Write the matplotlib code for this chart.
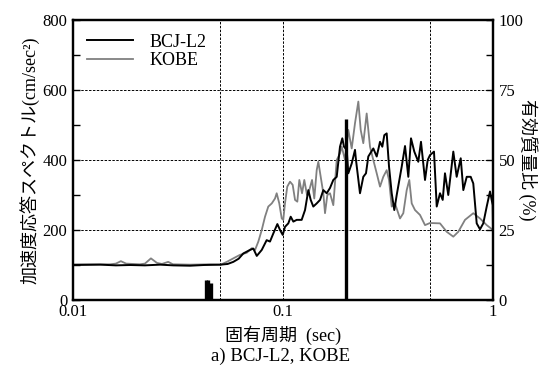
import matplotlib
matplotlib.use("Agg")
import matplotlib.pyplot as plt
from matplotlib.ticker import FixedLocator, NullFormatter

plt.rcParams['font.family'] = ['Liberation Serif', 'Noto Sans CJK JP']

# BCJ-L2 acceleration response spectrum (period sec, cm/sec^2)
bcj_period = [0.0100, 0.0135, 0.0160, 0.0187, 0.0220, 0.0260, 0.0300, 0.0361, 0.0420,
              0.0505, 0.0545, 0.0580, 0.0615, 0.0647, 0.0696, 0.0722, 0.0750, 0.0792,
              0.0836, 0.0867, 0.0899, 0.0940, 0.0968, 0.0997, 0.1022, 0.1060, 0.1088,
              0.1120, 0.1162, 0.1227, 0.1273, 0.1320, 0.1355, 0.1394, 0.1447, 0.1501,
              0.1556, 0.1615, 0.1674, 0.1736, 0.1802, 0.1868, 0.1916, 0.1952, 0.2011,
              0.2046, 0.2124, 0.2202, 0.2226, 0.2326, 0.2412, 0.2484, 0.2548, 0.2692,
              0.2794, 0.2897, 0.2971, 0.3037, 0.3117, 0.3198, 0.3293, 0.3388, 0.3479,
              0.3675, 0.3811, 0.3951, 0.4069, 0.4219, 0.4408, 0.4540, 0.4745, 0.4887,
              0.5012, 0.5236, 0.5395, 0.5592, 0.5761, 0.5906, 0.6124, 0.6471, 0.6715,
              0.7019, 0.7222, 0.7497, 0.7830, 0.8055, 0.8363, 0.8671, 0.8990, 0.9333,
              0.9676, 0.9967, 1.0000]
bcj_sa = [100, 101, 99, 100, 99, 101, 99, 98, 100,
          101, 103, 109, 118, 133, 143, 147, 126, 143,
          171, 167, 190, 217, 200, 186, 209, 219, 238,
          224, 229, 229, 257, 314, 286, 267, 276, 286,
          314, 305, 320, 343, 352, 438, 462, 438, 429,
          362, 390, 429, 400, 305, 352, 362, 410, 433,
          410, 452, 438, 471, 476, 381, 305, 257, 300,
          381, 440, 352, 462, 424, 395, 452, 343, 400,
          414, 424, 267, 305, 286, 362, 300, 424, 352,
          405, 314, 352, 352, 333, 219, 202, 219, 267,
          310, 271, 200]

# KOBE acceleration response spectrum
kobe_period = [0.0100, 0.0150, 0.0160, 0.0169, 0.0179, 0.0208, 0.0220, 0.0235, 0.0251,
               0.0265, 0.0284, 0.0299, 0.0361, 0.0450, 0.0505, 0.0540, 0.0580, 0.0624,
               0.0672, 0.0710, 0.0736, 0.0763, 0.0792, 0.0821, 0.0851, 0.0884, 0.0916,
               0.0933, 0.0960, 0.0986, 0.1003, 0.1022, 0.1048, 0.1080, 0.1112, 0.1141,
               0.1170, 0.1196, 0.1232, 0.1263, 0.1301, 0.1334, 0.1375, 0.1409, 0.1447,
               0.1473, 0.1512, 0.1556, 0.1585, 0.1626, 0.1674, 0.1736, 0.1802, 0.1868,
               0.1904, 0.1974, 0.2046, 0.2124, 0.2202, 0.2284, 0.2344, 0.2412, 0.2503,
               0.2596, 0.2692, 0.2794, 0.2897, 0.3003, 0.3117, 0.3198, 0.3293, 0.3415,
               0.3607, 0.3740, 0.3882, 0.3994, 0.4101, 0.4252, 0.4492, 0.4745, 0.5012,
               0.5592, 0.6019, 0.6471, 0.6835, 0.7356, 0.8055, 0.8671, 0.9333, 1.0000]
kobe_sa = [102, 102, 104, 111, 104, 102, 104, 119, 106,
           103, 109, 102, 101, 102, 101, 109, 119, 129,
           135, 148, 143, 167, 200, 238, 267, 276, 290,
           305, 276, 233, 229, 276, 324, 338, 329, 286,
           281, 343, 305, 343, 300, 314, 343, 290, 371,
           395, 352, 305, 248, 300, 305, 271, 400, 419,
           438, 400, 486, 433, 505, 567, 486, 448, 533,
           438, 400, 362, 324, 352, 371, 343, 267, 276,
           233, 248, 314, 343, 276, 257, 243, 214, 220,
           219, 195, 181, 195, 229, 248, 233, 214, 200]

# effective mass ratio (%)
mass_period = [0.0430, 0.0439, 0.0454, 0.2000]
mass_ratio = [7.1, 7.0, 6.2, 64.5]

fig = plt.figure(figsize=(5.42, 3.76), dpi=100)
ax = fig.add_axes([0.1347, 0.2021, 0.7749, 0.7447])

ax.plot(bcj_period, bcj_sa, color='black', lw=1.4, label='BCJ-L2', zorder=3)
ax.plot(kobe_period, kobe_sa, color='#808080', lw=1.3, label='KOBE', zorder=2)

ax.set_xscale('log')
ax.set_xlim(0.01, 1)
ax.set_ylim(0, 800)
ax.xaxis.set_major_locator(FixedLocator([0.01, 0.1, 1]))
ax.xaxis.set_minor_locator(FixedLocator([0.05, 0.5]))
ax.xaxis.set_minor_formatter(NullFormatter())
ax.set_xticklabels(['0.01', '0.1', '1'])
ax.set_yticks([0, 200, 400, 600, 800])
ax.yaxis.set_minor_locator(FixedLocator([100, 300, 500, 700]))
ax.tick_params(axis='x', which='both', length=0, labelsize=12, pad=3)
ax.tick_params(axis='y', which='major', direction='in', length=5, labelsize=12, width=1, pad=4)
ax.tick_params(axis='y', which='minor', direction='in', length=5, width=1)
ax.grid(True, which='both', axis='x', color='black', lw=0.7, ls=(0, (2.5, 1.5)))
ax.grid(True, which='major', axis='y', color='black', lw=0.7, ls=(0, (2.5, 1.5)))
for s in ax.spines.values():
    s.set_linewidth(1.6)

ax.set_ylabel('加速度応答スペクトル(cm/sec²)', fontsize=13, labelpad=2)
ax.set_xlabel('固有周期  (sec)', fontsize=13, labelpad=4)
fig.text(0.517, 0.028, 'a) BCJ-L2, KOBE', ha='center', va='bottom', fontsize=13.5)

leg = ax.legend(loc='upper left', bbox_to_anchor=(0.0, 1.0), frameon=False,
                fontsize=13, handlelength=2.6, labelspacing=0.1, borderaxespad=0.35,
                handletextpad=0.9)

ax2 = ax.twinx()
ax2.vlines(mass_period, 0, mass_ratio, color='black', lw=2.4)
ax2.set_ylim(0, 100)
ax2.set_yticks([0, 25, 50, 75, 100])
ax2.yaxis.set_minor_locator(FixedLocator([12.5, 37.5, 62.5, 87.5]))
ax2.tick_params(axis='y', which='both', direction='in', length=5, labelsize=12, width=1, pad=4)
ax2.set_ylabel('有効質量比 (%)', fontsize=13, rotation=270, labelpad=10)
for s in ax2.spines.values():
    s.set_linewidth(1.6)

fig.savefig('out.png', dpi=100)
